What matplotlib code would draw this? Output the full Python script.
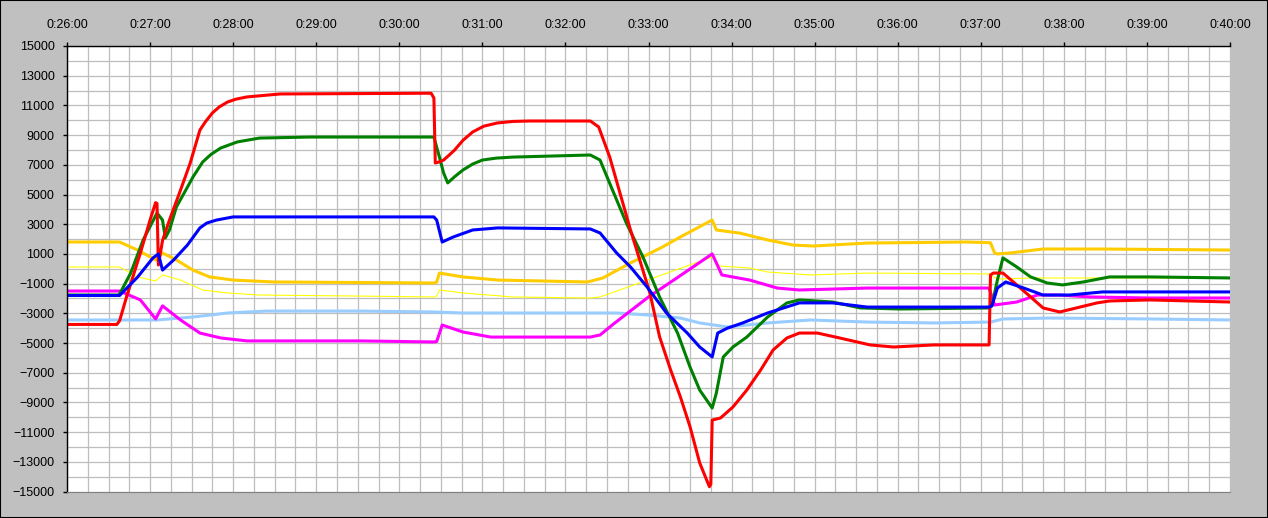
import numpy as np
import matplotlib
matplotlib.use('Agg')
import matplotlib.pyplot as plt
from matplotlib.patches import Rectangle
from matplotlib.ticker import FuncFormatter, MultipleLocator

# time axis in seconds after 0:26:00
start = 26 * 60

red_t = [0, 36, 38, 43, 53, 60, 64, 65, 66, 69, 74, 82, 89, 96, 100, 105, 110, 116, 122, 130, 154, 263, 265,
         266, 269, 272, 276, 280, 286, 293, 301, 311, 322, 334, 378, 384, 392, 407, 421, 428, 436, 443, 450,
         457, 464, 465, 466, 472, 481, 491, 501, 510, 520, 529, 542, 558, 580, 597, 626, 666, 667, 669, 676,
         686, 696, 705, 717, 729, 744, 753, 782, 840]
red_v = [-3750, -3750, -3500, -1900, 1060, 3280, 4450, 4400, 250, 1900, 3280, 5300, 7120, 9340, 9900, 10490,
         10900, 11230, 11420, 11570, 11770, 11820, 11500, 7120, 7200, 7320, 7650, 8000, 8650, 9210, 9600,
         9820, 9920, 9950, 9950, 9550, 7520, 2610, -1630, -4580, -6820, -8620, -10640, -13080, -14680,
         -14500, -10190, -10050, -9310, -8170, -6820, -5470, -4660, -4330, -4330, -4660, -5130, -5270, -5130,
         -5130, -420, -290, -290, -1090, -1900, -2640, -2910, -2640, -2300, -2170, -2100, -2240]

green_t = [0, 37, 38, 46, 55, 65, 69, 71, 74, 79, 87, 91, 98, 104, 111, 123, 139, 176, 265, 269, 272, 275,
           280, 286, 293, 300, 310, 322, 378, 385, 394, 404, 416, 428, 441, 450, 457, 466, 469, 474, 481, 491,
           506, 520, 529, 553, 573, 602, 666, 668, 672, 676, 686, 696, 708, 719, 734, 753, 782, 840]
green_v = [-1770, -1770, -1700, -290, 1940, 3750, 3280, 2070, 2610, 4160, 5500, 6180, 7190, 7700, 8130, 8540,
           8800, 8870, 8870, 7520, 6450, 5780, 6200, 6650, 7050, 7320, 7450, 7520, 7660, 7320, 5300, 3080, 790,
           -1900, -4330, -6620, -8170, -9380, -8370, -5940, -5270, -4600, -3250, -2300, -2100, -2240, -2640,
           -2710, -2640, -2500, -760, 730, 120, -550, -960, -1090, -890, -550, -550, -620]

blue_t = [0, 38, 51, 62, 66, 69, 77, 87, 96, 101, 108, 120, 139, 265, 267, 271, 279, 293, 311, 378, 385, 397,
          407, 419, 433, 448, 457, 466, 470, 477, 488, 506, 529, 553, 578, 666, 668, 672, 678, 691, 705, 724,
          748, 840]
blue_v = [-1800, -1800, -560, 720, 1000, -90, 590, 1600, 2750, 3080, 3280, 3490, 3490, 3490, 3280, 1800, 2140,
          2610, 2750, 2680, 2410, 1060, 120, -1230, -2980, -4330, -5270, -5940, -4330, -4000, -3650, -2980,
          -2300, -2300, -2580, -2580, -2500, -1300, -890, -1300, -1770, -1770, -1560, -1560]

orange_t = [0, 38, 51, 64, 69, 79, 91, 103, 120, 149, 265, 267, 269, 286, 311, 376, 387, 407, 430, 443, 466,
            469, 486, 506, 524, 539, 578, 650, 667, 670, 672, 681, 705, 748, 840]
orange_v = [1800, 1800, 1260, 590, 1060, 590, -90, -550, -760, -890, -960, -900, -290, -550, -760, -890, -620,
            390, 1460, 2140, 3280, 2610, 2400, 1940, 1600, 1530, 1730, 1800, 1750, 1060, 1000, 1060, 1330,
            1330, 1260]

yellow_t = [0, 38, 51, 64, 69, 82, 98, 116, 139, 212, 265, 267, 269, 286, 322, 378, 385, 466, 469, 472, 493,
            506, 537, 578, 667, 670, 674, 698, 840]
yellow_v = [120, 120, -550, -820, -420, -760, -1430, -1630, -1770, -1840, -1900, -1850, -1430, -1630, -1900,
            -1970, -1900, 790, 300, 180, 50, -220, -420, -290, -350, -600, -690, -620, -620]

lblue_t = [0, 65, 91, 116, 144, 212, 264, 286, 397, 419, 443, 457, 477, 506, 537, 578, 626, 667, 676, 710,
           782, 840]
lblue_v = [-3450, -3450, -3250, -2980, -2850, -2850, -2910, -2980, -2980, -3110, -3320, -3650, -3920, -3650,
           -3450, -3590, -3650, -3590, -3380, -3320, -3380, -3450]

magenta_t = [0, 38, 53, 64, 69, 82, 96, 111, 130, 212, 265, 267, 271, 286, 306, 378, 385, 395, 420, 440, 466,
             468, 473, 493, 513, 529, 578, 666, 670, 686, 701, 717, 739, 782, 840]
magenta_v = [-1500, -1500, -2100, -3380, -2500, -3450, -4330, -4660, -4860, -4860, -4930, -4900, -3790, -4260,
             -4600, -4600, -4460, -3700, -1900, -650, 1000, 600, -420, -760, -1300, -1430, -1300, -1300, -2440,
             -2240, -1770, -1770, -1900, -1970, -1970]

fig = plt.figure(figsize=(12.68, 5.18), dpi=100, facecolor='#C0C0C0')
fig.patches.append(Rectangle((0, 0), 1, 1, transform=fig.transFigure, fill=False,
                             edgecolor='black', linewidth=1.5))
ax = fig.add_axes([67 / 1268, 1 - 491.5 / 518, 1163 / 1268, 445.5 / 518])
ax.set_facecolor('white')

ax.plot(yellow_t, yellow_v, color='#FFFF00', lw=0.8)
ax.plot(lblue_t, lblue_v, color='#99CCFF', lw=2.2)
ax.plot(orange_t, orange_v, color='#FFCC00', lw=2.2)
ax.plot(magenta_t, magenta_v, color='#FF00FF', lw=2.2)
ax.plot(green_t, green_v, color='#008000', lw=2.2)
ax.plot(red_t, red_v, color='#FF0000', lw=2.2)
ax.plot(blue_t, blue_v, color='#0000FF', lw=2.2)

ax.set_xlim(0, 840)
ax.set_ylim(-15000, 15000)
ax.xaxis.set_major_locator(MultipleLocator(60))
ax.xaxis.set_minor_locator(MultipleLocator(15))
ax.set_yticks(np.arange(-15000, 15001, 2000))
ax.set_yticks(np.arange(-14000, 15000, 2000), minor=True)


def fmt_time(x, pos):
    s = int(round(x)) + start
    return '%d:%02d:%02d' % (s // 3600, (s % 3600) // 60, s % 60)


ax.xaxis.set_major_formatter(FuncFormatter(fmt_time))
ax.xaxis.tick_top()
ax.tick_params(axis='x', which='major', length=3, width=1, pad=8, labelsize=9, colors='black')
ax.tick_params(axis='y', which='major', length=3, width=1, pad=6, labelsize=9, colors='black')
ax.tick_params(which='minor', length=0)
for lab in ax.get_xticklabels() + ax.get_yticklabels():
    lab.set_family('Liberation Sans')

ax.grid(True, which='both', color='#BEBEBE', lw=0.9)
ax.set_axisbelow(True)
ax.spines['right'].set_visible(False)
ax.spines['bottom'].set_color('#808080')
ax.spines['top'].set_linewidth(1)
ax.spines['left'].set_linewidth(1)

plt.savefig('out.png', dpi=100, facecolor=fig.get_facecolor())
